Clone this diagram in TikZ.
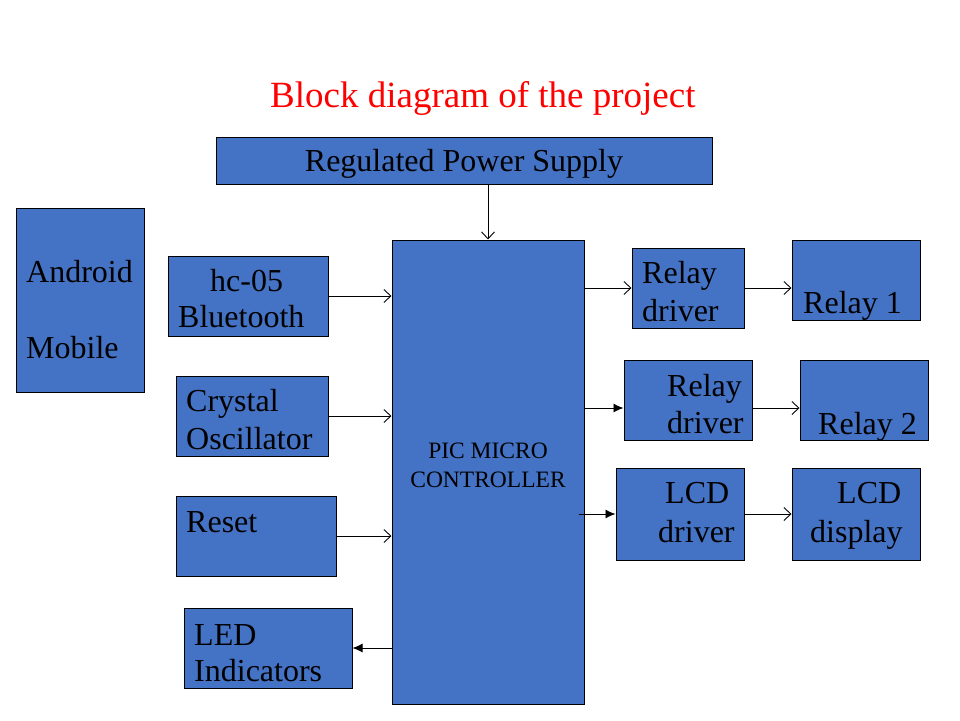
\documentclass[tikz,border=0pt]{standalone}
\usepackage{fontspec}
\setmainfont{Liberation Serif}
\usetikzlibrary{arrows.meta}
\definecolor{boxblue}{HTML}{4472C4}
\tikzstyle{blk} = [draw=black, fill=boxblue, line width=1pt, inner sep=0pt]
\tikzstyle{txt} = [inner sep=0pt, anchor=base west, font=\fontsize{32}{38}\selectfont]
\tikzset{
  line/.style ={draw, line width=0.9pt, -{Straight Barb[length=7pt,width=13pt]}},
  fline/.style ={draw, line width=0.9pt, -{Latex[length=10pt,width=9pt]}}
}

\begin{document}
\begin{tikzpicture}[x=1pt,y=-1pt]
	\useasboundingbox (0,0) rectangle (960,720);
	% title
	\node[inner sep=0pt, anchor=base west, text=red, font=\fontsize{37}{44}\selectfont] (title) at (270,107) {Block diagram of the project};
	% blocks
	\node[blk, minimum width=496pt, minimum height=47pt] (power) at (464,160.5) {};
	\node[blk, minimum width=128pt, minimum height=184pt] (android) at (80,300) {};
	\node[blk, minimum width=160pt, minimum height=80pt] (hc) at (248,296) {};
	\node[blk, minimum width=152pt, minimum height=80pt] (crystal) at (252,416) {};
	\node[blk, minimum width=160pt, minimum height=80pt] (reset) at (256,536) {};
	\node[blk, minimum width=168pt, minimum height=80pt] (led) at (268,648) {};
	\node[blk, minimum width=192pt, minimum height=464pt] (pic) at (488,472) {};
	\node[blk, minimum width=112pt, minimum height=80pt] (rd1) at (688,288) {};
	\node[blk, minimum width=128pt, minimum height=80pt] (rd2) at (688,400) {};
	\node[blk, minimum width=128pt, minimum height=92pt] (lcdd) at (680,514) {};
	\node[blk, minimum width=128pt, minimum height=80pt] (relay1) at (856,280) {};
	\node[blk, minimum width=128pt, minimum height=80pt] (relay2) at (864,400) {};
	\node[blk, minimum width=128pt, minimum height=92pt] (lcd) at (856,514) {};
	% texts
	\node[txt, anchor=base] (powert) at (464,171) {Regulated Power Supply};
	\node[txt] (androidt) at (26,282) {Android};
	\node[txt] (mobilet) at (26,358) {Mobile};
	\node[txt] (hct) at (210,291) {hc-05};
	\node[txt] (bluet) at (178,327) {Bluetooth};
	\node[txt] (crystalt) at (186,411) {Crystal};
	\node[txt] (osct) at (186,449) {Oscillator};
	\node[txt] (resett) at (186,532) {Reset};
	\node[txt] (ledt) at (194,645) {LED};
	\node[txt] (indt) at (194,681) {Indicators};
	\node[txt, anchor=base, font=\fontsize{23.5}{28}\selectfont] (pict) at (488,458) {PIC MICRO};
	\node[txt, anchor=base, font=\fontsize{23.5}{28}\selectfont] (ctrlt) at (488,487) {CONTROLLER};
	\node[txt] (rd1a) at (642,283) {Relay};
	\node[txt] (rd1b) at (642,321) {driver};
	\node[txt] (rd2a) at (667,396) {Relay};
	\node[txt] (rd2b) at (667,433) {driver};
	\node[txt] (lcdda) at (665,503) {LCD};
	\node[txt] (lcddb) at (658,542) {driver};
	\node[txt] (relay1t) at (803,313) {Relay 1};
	\node[txt] (relay2t) at (818,434) {Relay 2};
	\node[txt] (lcda) at (837,503) {LCD};
	\node[txt] (lcdb) at (810,542) {display};
	% connectors
	\draw[line] (pic.north |- power.south) -- (pic.north);
	\draw[line] (hc.east) -- (hc.east -| pic.west);
	\draw[line] (crystal.east) -- (crystal.east -| pic.west);
	\draw[line] (reset.east) -- (reset.east -| pic.west);
	\draw[fline] (led.east -| pic.west) -- (led.east);
	\draw[line] (rd1.west -| pic.east) -- (rd1.west);
	\draw[fline] ([yshift=-8pt]rd2.west -| pic.east) -- ([yshift=-8pt]rd2.west);
	\draw[fline] ([xshift=-6pt]pic.east |- lcdd.west) -- (lcdd.west);
	\draw[line] (rd1.east) -- (rd1.east -| relay1.west);
	\draw[line] ([yshift=-8pt]rd2.east) -- ([yshift=-8pt]rd2.east -| relay2.west);
	\draw[line] (lcdd.east) -- (lcdd.east -| lcd.west);
\end{tikzpicture}
\end{document}
